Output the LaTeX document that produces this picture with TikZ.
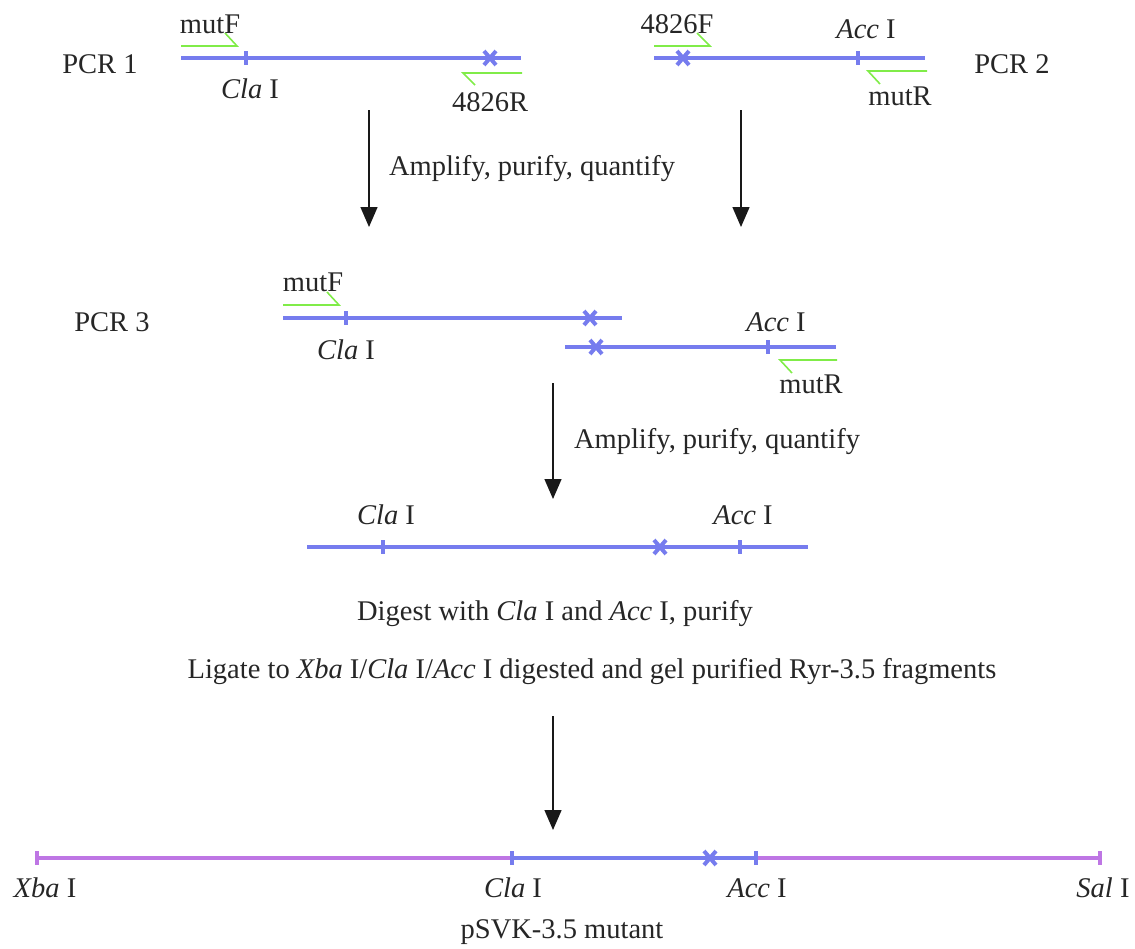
\documentclass[tikz,border=0pt]{standalone}
\usepackage{fontspec}
\setmainfont{Liberation Serif}
\usetikzlibrary{arrows.meta}
\definecolor{dnablue}{RGB}{118,124,238}
\definecolor{vecpurple}{RGB}{190,118,228}
\definecolor{primergreen}{RGB}{128,236,72}
\tikzset{
  dna/.style={draw=dnablue, line width=4.2pt},
  vec/.style={draw=vecpurple, line width=4.2pt},
  primer/.style={draw=primergreen, line width=1.6pt},
  lbl/.style={font=\fontsize{28.5}{33}\selectfont, inner sep=0pt, text=black!85},
  flow/.style={draw=black!90, line width=1.4pt, -{Triangle[width=17pt,length=20pt]}},
}
\newcommand{\sitetick}[3][dnablue]{\draw[#1, line width=3.6pt] (#2,#3-7) -- (#2,#3+7);}
\newcommand{\mutmark}[2]{\draw[dnablue, line width=4pt] (#1-6,#2-7) -- (#1+6,#2+7) (#1-6,#2+7) -- (#1+6,#2-7);}
\begin{document}
\begin{tikzpicture}[x=1pt,y=-1pt]
\useasboundingbox (0,0) rectangle (1135,948);
% ---------- PCR 1 ----------
\node[lbl] (pcr1) at (100,64) {PCR 1};
\coordinate (a1) at (181,58); \coordinate (a2) at (521,58);
\draw[dna] (a1) -- (a2);
\sitetick{246}{58}
\mutmark{490}{58}
\coordinate (mf1a) at (181,46); \coordinate (mf1b) at (237,46); \coordinate (mf1c) at (225,33);
\draw[primer] (mf1a) -- (mf1b) -- (mf1c);
\node[lbl] (mutF1) at (210,24) {mutF};
\node[lbl] (cla1) at (250,89) {\textit{Cla} I};
\coordinate (r1a) at (522,73); \coordinate (r1b) at (463,73); \coordinate (r1c) at (475,85);
\draw[primer] (r1a) -- (r1b) -- (r1c);
\node[lbl] (r4826) at (490,102) {4826R};
% ---------- PCR 2 ----------
\node[lbl] (pcr2) at (1012,64) {PCR 2};
\coordinate (b1) at (654,58); \coordinate (b2) at (925,58);
\draw[dna] (b1) -- (b2);
\mutmark{683}{58}
\sitetick{858}{58}
\coordinate (f2a) at (654,46); \coordinate (f2b) at (710,46); \coordinate (f2c) at (697,33);
\draw[primer] (f2a) -- (f2b) -- (f2c);
\node[lbl] (f4826) at (677,24) {4826F};
\node[lbl] (acc2) at (866,29) {\textit{Acc} I};
\coordinate (mr2a) at (927,71); \coordinate (mr2b) at (868,71); \coordinate (mr2c) at (880,84);
\draw[primer] (mr2a) -- (mr2b) -- (mr2c);
\node[lbl] (mutR2) at (900,96) {mutR};
% ---------- arrows 1 ----------
\coordinate (ar1s) at (369,110); \coordinate (ar1e) at (369,227);
\coordinate (ar2s) at (741,110); \coordinate (ar2e) at (741,227);
\draw[flow] (ar1s) -- (ar1e);
\draw[flow] (ar2s) -- (ar2e);
\node[lbl] (amp1) at (532,169) {Amplify, purify, quantify};
% ---------- PCR 3 ----------
\node[lbl] (pcr3) at (112,322) {PCR 3};
\coordinate (c1) at (283,318); \coordinate (c2) at (622,318);
\draw[dna] (c1) -- (c2);
\sitetick{346}{318}
\mutmark{590}{318}
\coordinate (mf3a) at (283,305); \coordinate (mf3b) at (339,305); \coordinate (mf3c) at (327,292);
\draw[primer] (mf3a) -- (mf3b) -- (mf3c);
\node[lbl] (mutF3) at (313,282) {mutF};
\node[lbl] (cla3) at (346,350) {\textit{Cla} I};
\coordinate (d1) at (565,347); \coordinate (d2) at (836,347);
\draw[dna] (d1) -- (d2);
\mutmark{596}{347}
\sitetick{768}{347}
\node[lbl] (acc3) at (776,322) {\textit{Acc} I};
\coordinate (mr3a) at (837,360); \coordinate (mr3b) at (780,360); \coordinate (mr3c) at (792,373);
\draw[primer] (mr3a) -- (mr3b) -- (mr3c);
\node[lbl] (mutR3) at (811,384) {mutR};
% ---------- arrow 2 ----------
\coordinate (ar3s) at (553,383); \coordinate (ar3e) at (553,499);
\draw[flow] (ar3s) -- (ar3e);
\node[lbl] (amp2) at (717,442) {Amplify, purify, quantify};
% ---------- product ----------
\coordinate (e1) at (307,547); \coordinate (e2) at (808,547);
\draw[dna] (e1) -- (e2);
\sitetick{383}{547}
\mutmark{660}{547}
\sitetick{740}{547}
\node[lbl] (cla4) at (386,515) {\textit{Cla} I};
\node[lbl] (acc4) at (743,515) {\textit{Acc} I};
\node[lbl] (digest) at (555,614) {Digest with \textit{Cla} I and \textit{Acc} I, purify};
\node[lbl] (ligate) at (592,672) {Ligate to \textit{Xba} I/\textit{Cla} I/\textit{Acc} I digested and gel purified Ryr-3.5 fragments};
% ---------- arrow 3 ----------
\coordinate (ar4s) at (553,716); \coordinate (ar4e) at (553,830);
\draw[flow] (ar4s) -- (ar4e);
% ---------- final construct ----------
\coordinate (g1) at (37,858); \coordinate (g2) at (512,858);
\coordinate (g3) at (756,858); \coordinate (g4) at (1100,858);
\draw[vec] (g1) -- (g2);
\draw[vec] (g3) -- (g4);
\draw[dna] (g2) -- (g3);
\sitetick[vecpurple]{37}{858}
\sitetick[vecpurple]{1100}{858}
\sitetick{512}{858}
\sitetick{756}{858}
\mutmark{710}{858}
\node[lbl] (xba) at (45,888) {\textit{Xba} I};
\node[lbl] (cla5) at (513,888) {\textit{Cla} I};
\node[lbl] (acc5) at (757,888) {\textit{Acc} I};
\node[lbl] (sal) at (1103,888) {\textit{Sal} I};
\node[lbl] (psvk) at (562,932) {pSVK-3.5 mutant};
\end{tikzpicture}
\end{document}
